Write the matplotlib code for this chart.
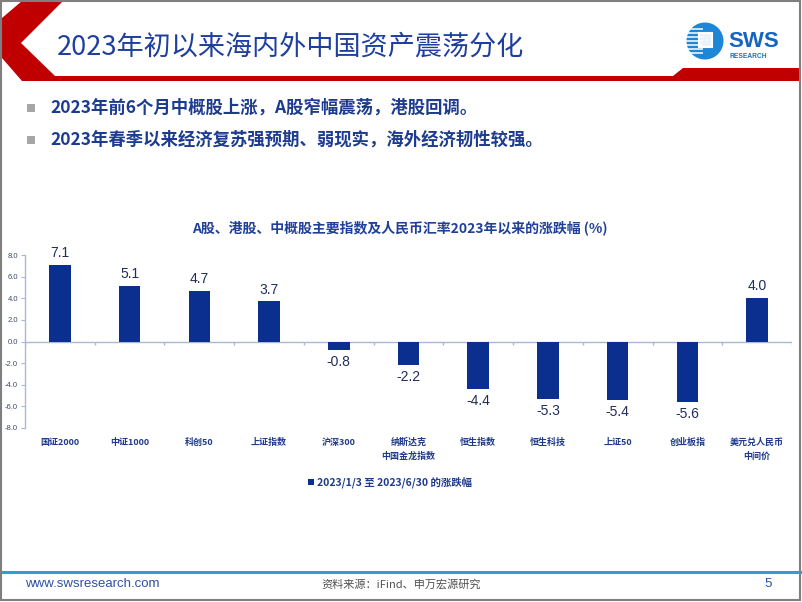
import matplotlib
matplotlib.use('Agg')
import matplotlib.pyplot as plt
from matplotlib.patches import Polygon, Rectangle, Circle

plt.rcParams['font.family'] = ['Noto Sans CJK SC', 'DejaVu Sans']

# ---------------- data ----------------
categories = ['国证2000', '中证1000', '科创50', '上证指数', '沪深300',
              '纳斯达克\n中国金龙指数', '恒生指数', '恒生科技', '上证50',
              '创业板指', '美元兑人民币\n中间价']
values = [7.1, 5.1, 4.7, 3.7, -0.8, -2.2, -4.4, -5.3, -5.4, -5.6, 4.0]
yticks = [-8, -6, -4, -2, 0, 2, 4, 6, 8]
series_name = '2023/1/3 至 2023/6/30 的涨跌幅'
slide_title = '2023年初以来海内外中国资产震荡分化'
bullets = ['2023年前6个月中概股上涨，A股窄幅震荡，港股回调。',
           '2023年春季以来经济复苏强预期、弱现实，海外经济韧性较强。']
chart_title = 'A股、港股、中概股主要指数及人民币汇率2023年以来的涨跌幅 (%)'
source = '资料来源：iFind、申万宏源研究'
website = 'www.swsresearch.com'
page = '5'

W, H = 802, 602
fig = plt.figure(figsize=(W / 100, H / 100), dpi=100)
fig.patch.set_facecolor('white')

# overlay in pixel coordinates for slide decorations
bg = fig.add_axes([0, 0, 1, 1], zorder=0)
bg.set_xlim(0, W)
bg.set_ylim(H, 0)
bg.axis('off')

RED = '#c00000'
bg.add_patch(Polygon([(22, 1), (63, 1), (21, 43), (55, 76), (673, 76), (683, 68),
                      (800, 68), (800, 81), (22, 81), (2, 58), (2, 18)],
                     closed=True, color=RED, lw=0))
bg.add_patch(Rectangle((1, 1), 799, 599, fill=False, ec='#7f7f7f', lw=1.5))

# logo
bg.add_patch(Circle((705, 41), 18.5, color='#1e86d6', lw=0))
for yy in range(29, 55, 4):
    bg.plot([686, 703], [yy, yy], color='white', lw=1.1, solid_capstyle='butt')
bg.add_patch(Rectangle((699, 33), 13, 14, fc='#e8f3fc', ec='white', lw=1.5))
bg.text(728, 47, 'SWS', fontsize=16, fontweight='bold', family='Liberation Sans',
        color='#1565c0', ha='left', va='baseline')
bg.text(729, 53.5, 'RESEARCH', fontsize=4.8, fontweight='bold', family='Liberation Sans',
        color='#1a6fc4', ha='left', va='top')

# slide title
bg.text(57, 47, slide_title, fontsize=19.5, fontweight='medium', color='#1e3fa0',
        ha='left', va='center')

# bullets
for i, b in enumerate(bullets):
    yc = 108 + 32 * i
    bg.add_patch(Rectangle((27, yc - 4), 8, 8, color='#a6a6a6', lw=0))
    bg.text(50, yc, b, fontsize=12.5, fontweight='bold', color='#1d3b8f',
            ha='left', va='center')

# chart title
bg.text(400, 228, chart_title, fontsize=10, fontweight='bold', color='#1f3f99',
        ha='center', va='center')

# footer
bg.plot([2, 800], [572, 572], color='#2e9fd0', lw=2.2)
bg.text(25, 584, website, fontsize=9.5, family='Liberation Sans', color='#2f4fa8',
        ha='left', va='center')
bg.text(401, 584, source, fontsize=8, color='#505050', ha='center', va='center')
bg.text(768, 584, page, fontsize=9.5, family='Liberation Sans', color='#2f4fa8',
        ha='center', va='center')

# ---------------- chart ----------------
AX_C = '#a9b8d6'
ax = fig.add_axes([25 / W, 1 - 428 / H, 767 / W, 173 / H], zorder=1)
ax.patch.set_alpha(0)
x = list(range(len(categories)))
bars = ax.bar(x, values, width=0.31, color='#0a2f8f', label=series_name, zorder=3)
ax.set_xlim(-0.5, len(categories) - 0.5)
ax.set_ylim(-8, 8)
for s in ['top', 'right', 'bottom']:
    ax.spines[s].set_visible(False)
ax.spines['left'].set_color(AX_C)
ax.spines['left'].set_linewidth(1)
ax.axhline(0, color=AX_C, lw=1, zorder=2)
ax.vlines([i - 0.5 for i in range(len(categories) + 1)], -0.3, 0, color=AX_C, lw=1)

ax.set_yticks(yticks)
ax.set_yticklabels([f'{v:.1f}' for v in yticks], fontsize=5.5, color='#3b4a6b',
                   family='Liberation Sans')
ax.tick_params(axis='y', length=3, color=AX_C, pad=2)
ax.set_xticks(x)
ax.set_xticklabels(categories, fontsize=6.5, fontweight='bold', color='#1f3a8c',
                   linespacing=1.7)
ax.tick_params(axis='x', length=0, pad=7)

for i, v in enumerate(values):
    ax.annotate(f'{v:.1f}', (i, v), xytext=(0, 3.5 if v > 0 else -3.5),
                textcoords='offset points', ha='center',
                va='bottom' if v > 0 else 'top', fontsize=10,
                family='Liberation Sans', color='#1f2d5a')

ax.legend(loc='center', bbox_to_anchor=(390 / W, 1 - 482 / H),
          bbox_transform=fig.transFigure, frameon=False,
          prop={'size': 7.5, 'weight': 'bold'}, labelcolor='#1f3a8c',
          handlelength=0.5, handleheight=0.5, handletextpad=0.3)

fig.savefig('out.png', dpi=100)
